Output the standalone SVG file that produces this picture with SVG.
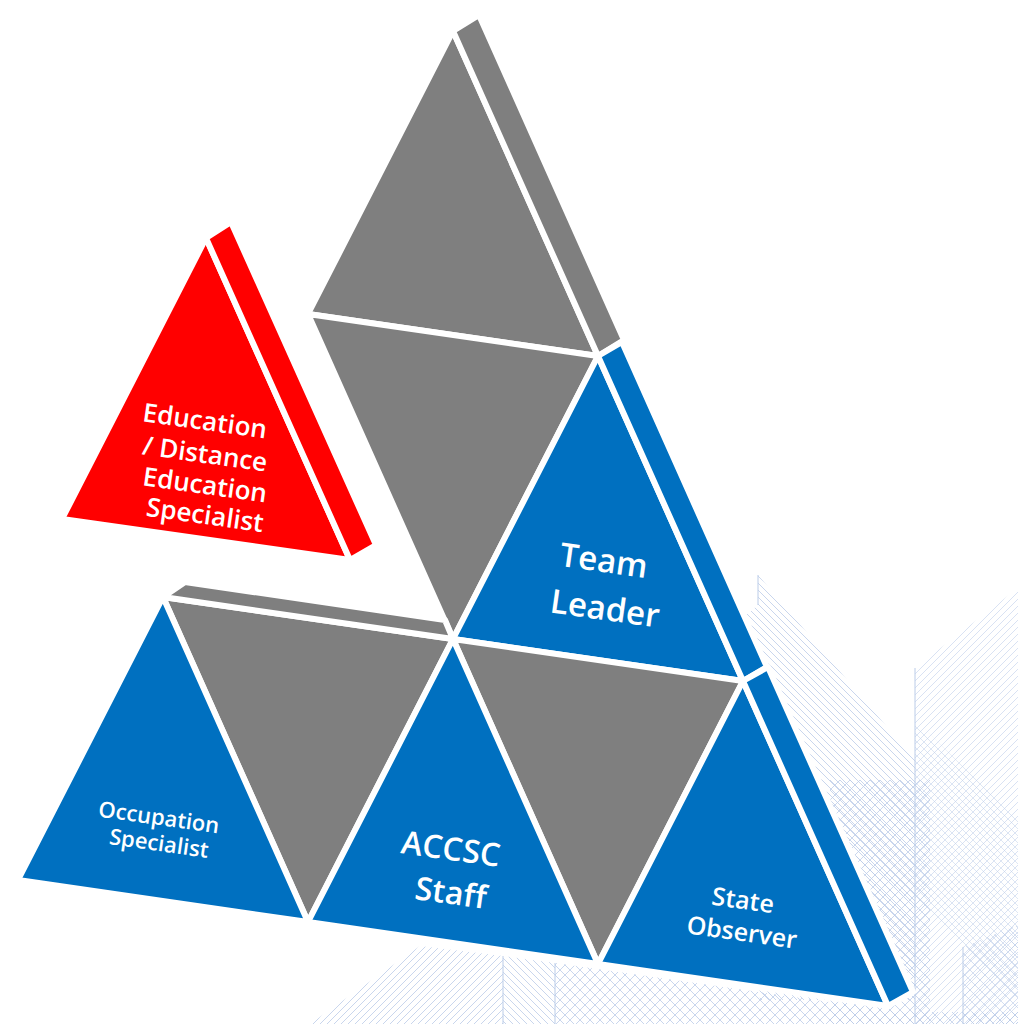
<svg xmlns="http://www.w3.org/2000/svg" width="1018" height="1024" viewBox="0 0 1018 1024">
<defs>
<pattern id="hd" width="7" height="7" patternUnits="userSpaceOnUse"><path d="M-1,-1 L8,8 M-1,6 L1,8 M6,-1 L8,1" stroke="#9fb8e0" stroke-width="0.8" fill="none"/></pattern>
<pattern id="hu" width="7" height="7" patternUnits="userSpaceOnUse"><path d="M-1,8 L8,-1 M-1,1 L1,-1 M6,8 L8,6" stroke="#9fb8e0" stroke-width="0.8" fill="none"/></pattern>
<pattern id="hx" width="10" height="10" patternUnits="userSpaceOnUse"><path d="M-1,-1 L11,11 M-1,9 L1,11 M9,-1 L11,1 M-1,11 L11,-1 M-1,1 L1,-1 M9,11 L11,9" stroke="#9fb8e0" stroke-width="0.8" fill="none"/></pattern>
</defs>
<style>
.t{stroke:#fff;stroke-width:6;stroke-linejoin:round}
.g{fill:#7f7f7f}
.b{fill:#0070c0}
.r{fill:#ff0000}
.lbl{font-family:"Open Sans","Liberation Sans",sans-serif;font-weight:600;fill:#fff;text-anchor:middle}
.bg{stroke:#9fb8e0;stroke-width:1;fill:none}
</style>
<rect width="1018" height="1024" fill="#fff"/>
<g id="background" opacity="0.7">
<polygon points="758,575 915,760 915,1000 760,1000 740,620 758,605" fill="url(#hd)"/>
<polygon points="830,780 930,780 930,1024 830,1024" fill="url(#hx)"/>
<polygon points="915,668 1018,588 1018,1024 915,1024" fill="url(#hu)" opacity="0.7"/>
<polygon points="915,720 1018,820 1018,1000 915,900" fill="url(#hd)" opacity="0.6"/>
<polygon points="963,947 1018,925 1018,1024 963,1024" fill="url(#hx)" opacity="0.8"/>
<polygon points="310,1024 420,946 503,956 503,1024" fill="url(#hu)"/>
<polygon points="503,956 555,963 555,1024 503,1024" fill="url(#hd)"/>
<polygon points="555,963 900,1012 1018,1012 1018,1024 555,1024" fill="url(#hx)"/>
<path class="bg" d="M758,575 V605 M915,668 V1024 M503,956 V1024 M555,963 V1024 M963,947 V1024"/>
</g>
<g id="connectors"/>
<g id="top-gray">
<polygon class="t g" points="453,31 308,314 598,356"/>
<polygon class="t g" points="453,31 479,15 624,340 598,356"/>
</g>
<g id="mid-gray">
<polygon class="t g" points="308,314 598,356 453,639"/>
</g>
<g id="education-specialist">
<polygon class="t r" points="206,238 62,519 350,560"/>
<polygon class="t r" points="206,238 231,222 376,545 350,560"/>
<text class="lbl" font-size="26" x="205" y="430" transform="rotate(8 205 421)">Education</text>
<text class="lbl" font-size="26" x="205" y="463" transform="rotate(8 205 454)">/ Distance</text>
<text class="lbl" font-size="26" x="205" y="494" transform="rotate(8 205 485)">Education</text>
<text class="lbl" font-size="26" x="205" y="524" transform="rotate(8 205 515)">Specialist</text>
</g>
<g id="team-leader">
<polygon class="t b" points="598,356 453,639 743,681"/>
<polygon class="t b" points="598,356 622,342 767,667 743,681"/>
<text class="lbl" font-size="33" x="604" y="572" transform="rotate(8 604 560)">Team</text>
<text class="lbl" font-size="33" x="605" y="620" transform="rotate(8 605 608)">Leader</text>
</g>
<g id="bottom-gray-left">
<polygon class="t g" points="163,597 453,639 308,922"/>
<polygon class="t g" points="163,597 185,582 445,620 453,639"/>
</g>
<g id="bottom-gray-right">
<polygon class="t g" points="453,639 743,681 598,964"/>
</g>
<g id="occupation-specialist">
<polygon class="t b" points="163,597 18,880 308,922"/>
<text class="lbl" font-size="22" x="159" y="825" transform="rotate(8 159 817)">Occupation</text>
<text class="lbl" font-size="22" x="159" y="851" transform="rotate(8 159 843)">Specialist</text>
</g>
<g id="accsc-staff">
<polygon class="t b" points="453,639 308,922 598,964"/>
<text class="lbl" font-size="32" x="451" y="860" transform="rotate(8 451 848)">ACCSC</text>
<text class="lbl" font-size="32" x="451" y="904" transform="rotate(8 451 892)">Staff</text>
</g>
<g id="state-observer">
<polygon class="t b" points="743,681 598,964 888,1006"/>
<polygon class="t b" points="743,681 768,667 913,992 888,1006"/>
<text class="lbl" font-size="25" x="743" y="909" transform="rotate(8 743 900)">State</text>
<text class="lbl" font-size="25" x="742" y="941" transform="rotate(8 742 932)">Observer</text>
</g>
</svg>
